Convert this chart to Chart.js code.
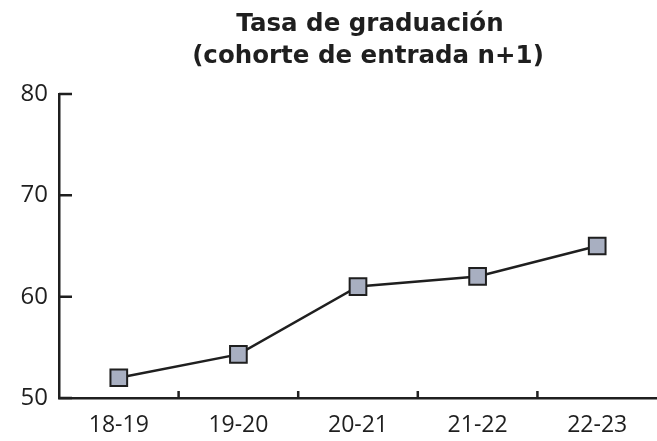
<!DOCTYPE html>
<html>
<head>
<meta charset="utf-8">
<script src="https://cdn.jsdelivr.net/npm/chart.js@4"></script>
<style>
  html, body { margin: 0; padding: 0; background: #fff; overflow: hidden; }
  #wrap { width: 657px; height: 441px; position: relative; }
</style>
</head>
<body>
<div id="wrap"><canvas id="chart"></canvas></div>
<script>
const cohorts = ["18-19", "19-20", "20-21", "21-22", "22-23"];
const gradRate = [52, 54.3, 61, 62, 65];
const titleLines = ["Tasa de graduación", "(cohorte de entrada n+1)"];

const INK = "#1f1f1f";

// short inward ticks on both axes, and a title centred over the plot
const axisDecor = {
  id: "axisDecor",
  afterDraw(chart) {
    const ctx = chart.ctx;
    const x = chart.scales.x;
    const y = chart.scales.y;
    const area = chart.chartArea;
    ctx.save();
    ctx.strokeStyle = INK;
    ctx.lineWidth = 2.5;
    ctx.beginPath();
    for (const t of y.ticks) {
      const py = y.getPixelForValue(t.value);
      ctx.moveTo(area.left, py);
      ctx.lineTo(area.left + 13, py);
    }
    for (let i = 1; i < cohorts.length; i++) {
      const px = (x.getPixelForTick(i - 1) + x.getPixelForTick(i)) / 2;
      ctx.moveTo(px, area.bottom);
      ctx.lineTo(px, area.bottom - 7);
    }
    ctx.stroke();

    ctx.fillStyle = INK;
    ctx.font = "bold 24.5px 'DejaVu Sans', sans-serif";
    ctx.textAlign = "center";
    ctx.textBaseline = "alphabetic";
    ctx.fillText(titleLines[0], 370, 31);
    ctx.fillText(titleLines[1], 368, 63);
    ctx.restore();
  },
};

new Chart(document.getElementById("chart"), {
  type: "line",
  data: {
    labels: cohorts,
    datasets: [
      {
        data: gradRate,
        borderColor: INK,
        borderWidth: 2.5,
        pointStyle: "rect",
        pointRadius: 11.8,
        pointHoverRadius: 11.8,
        pointBackgroundColor: "#a8afc1",
        pointBorderColor: INK,
        pointBorderWidth: 2,
        tension: 0,
        clip: false,
      },
    ],
  },
  options: {
    responsive: true,
    maintainAspectRatio: false,
    animation: false,
    layout: {
      autoPadding: false,
      padding: { top: 94, right: 0, left: 0, bottom: 0 },
    },
    plugins: {
      legend: { display: false },
      title: { display: false },
      tooltip: { enabled: false },
    },
    scales: {
      x: {
        offset: true,
        grid: { display: false, drawTicks: false },
        border: { display: true, color: INK, width: 2.5 },
        ticks: {
          color: INK,
          padding: 14,
          maxRotation: 0,
          font: { family: "'Open Sans', sans-serif", size: 23 },
        },
        afterFit(scale) {
          scale.height = 43;
          scale.paddingLeft = 0;
          scale.paddingRight = 0;
        },
      },
      y: {
        min: 50,
        max: 80,
        grid: { display: false, drawTicks: false },
        border: { display: true, color: INK, width: 2.5 },
        ticks: {
          stepSize: 10,
          color: INK,
          padding: 11,
          font: { family: "'Open Sans', sans-serif", size: 24 },
        },
        afterFit(scale) {
          scale.width = 59;
        },
      },
    },
  },
  plugins: [axisDecor],
});
</script>
</body>
</html>
